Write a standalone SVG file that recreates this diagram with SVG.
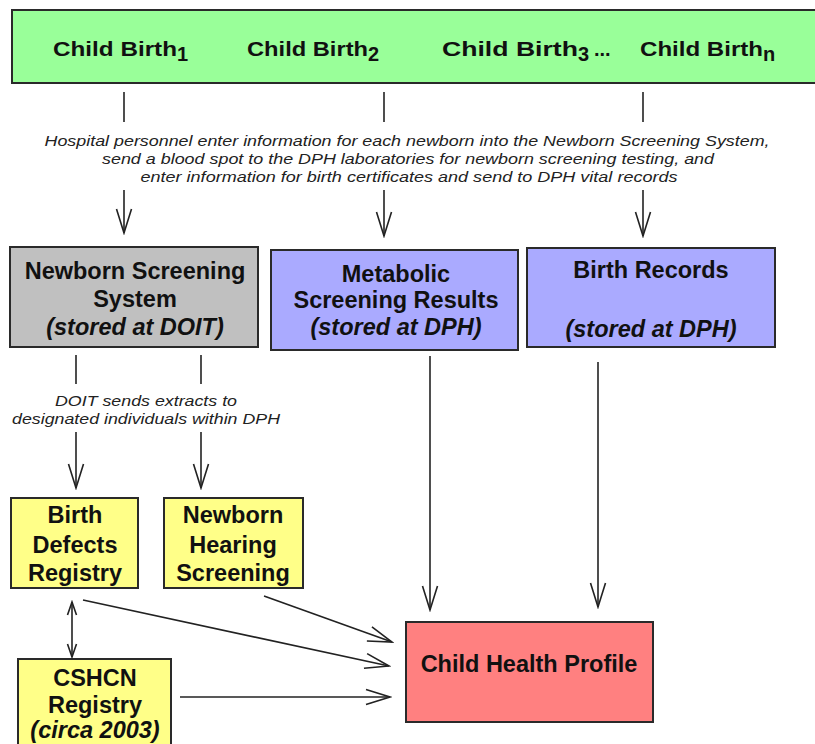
<svg xmlns="http://www.w3.org/2000/svg" width="815" height="744" viewBox="0 0 815 744">
<style>
.box{stroke:#2a2a2a;stroke-width:2}
.t{font-family:"Liberation Sans",Arial,sans-serif;font-weight:bold;fill:#111;text-anchor:middle;font-size:23.5px}
.h{font-family:"Liberation Sans",Arial,sans-serif;font-weight:bold;fill:#111;font-size:20px}
.it{font-family:"Liberation Sans",Arial,sans-serif;font-style:italic;fill:#222;text-anchor:middle;font-size:15px}
.c{stroke:#222;stroke-width:1.6;fill:none}
</style>
<defs>
<marker id="a" markerUnits="userSpaceOnUse" markerWidth="28" markerHeight="20" viewBox="0 0 28 20" refX="26" refY="10" orient="auto">
<path d="M2,2.5 L26,10 L2,17.5" fill="none" stroke="#222" stroke-width="1.6"/>
</marker>
<marker id="as" markerUnits="userSpaceOnUse" markerWidth="20" markerHeight="20" viewBox="0 0 20 20" refX="18" refY="10" orient="auto-start-reverse">
<path d="M5,5.5 L18,10 L5,14.5" fill="none" stroke="#222" stroke-width="1.6"/>
</marker>
</defs>
<rect width="815" height="744" fill="#fff"/>
<g id="births">
<rect class="box" x="12" y="10" width="810" height="73" fill="#99ff99"/>
<text class="h" y="56"><tspan x="53" textLength="124" lengthAdjust="spacingAndGlyphs">Child Birth</tspan><tspan dy="5">1</tspan></text>
<text class="h" y="56"><tspan x="247" textLength="121" lengthAdjust="spacingAndGlyphs">Child Birth</tspan><tspan dy="5">2</tspan></text>
<text class="h" y="56"><tspan x="442" textLength="136" lengthAdjust="spacingAndGlyphs">Child Birth</tspan><tspan dy="5">3</tspan><tspan x="594" dy="-5">...</tspan></text>
<text class="h" y="56"><tspan x="640" textLength="123" lengthAdjust="spacingAndGlyphs">Child Birth</tspan><tspan dy="5">n</tspan></text>
</g>
<g id="label-hospital">
<text class="it" x="407" y="146" textLength="725" lengthAdjust="spacingAndGlyphs">Hospital personnel enter information for each newborn into the Newborn Screening System,</text>
<text class="it" x="408" y="164" textLength="612" lengthAdjust="spacingAndGlyphs">send a blood spot to the DPH laboratories for newborn screening testing, and</text>
<text class="it" x="409" y="182" textLength="537" lengthAdjust="spacingAndGlyphs">enter information for birth certificates and send to DPH vital records</text>
</g>
<g id="nss">
<rect class="box" x="10" y="247" width="248" height="100" fill="#c0c0c0"/>
<text class="t" x="135" y="279">Newborn Screening</text>
<text class="t" x="135" y="307">System</text>
<text class="t" x="135" y="335" font-style="italic">(stored at DOIT)</text>
</g>
<g id="metabolic">
<rect class="box" x="271" y="250" width="247" height="100" fill="#aaaaff"/>
<text class="t" x="396" y="282">Metabolic</text>
<text class="t" x="396" y="308">Screening Results</text>
<text class="t" x="396" y="335" font-style="italic">(stored at DPH)</text>
</g>
<g id="birthrecords">
<rect class="box" x="527" y="248" width="248" height="99" fill="#aaaaff"/>
<text class="t" x="651" y="278">Birth Records</text>
<text class="t" x="651" y="337" font-style="italic">(stored at DPH)</text>
</g>
<g id="label-doit">
<text class="it" x="146" y="406" textLength="182" lengthAdjust="spacingAndGlyphs">DOIT sends extracts to</text>
<text class="it" x="146" y="424" textLength="268" lengthAdjust="spacingAndGlyphs">designated individuals within DPH</text>
</g>
<g id="bdr">
<rect class="box" x="11" y="498" width="127" height="90" fill="#ffff88"/>
<text class="t" x="75" y="523">Birth</text>
<text class="t" x="75" y="553">Defects</text>
<text class="t" x="75" y="581">Registry</text>
</g>
<g id="nhs">
<rect class="box" x="164" y="498" width="139" height="90" fill="#ffff88"/>
<text class="t" x="233" y="523">Newborn</text>
<text class="t" x="233" y="553">Hearing</text>
<text class="t" x="233" y="581">Screening</text>
</g>
<g id="cshcn">
<rect class="box" x="18" y="659" width="153" height="95" fill="#ffff88"/>
<text class="t" x="95" y="686">CSHCN</text>
<text class="t" x="95" y="713">Registry</text>
<text class="t" x="95" y="738" font-style="italic">(circa 2003)</text>
</g>
<g id="chp">
<rect class="box" x="406" y="622" width="247" height="100" fill="#ff8080"/>
<text class="t" x="529" y="672">Child Health Profile</text>
</g>
<g id="connectors">
<line class="c" x1="124" y1="92" x2="124" y2="122"/>
<line class="c" x1="384" y1="92" x2="384" y2="122"/>
<line class="c" x1="643" y1="92" x2="643" y2="122"/>
<line class="c" x1="124" y1="190" x2="124" y2="233" marker-end="url(#a)"/>
<line class="c" x1="384" y1="190" x2="384" y2="236" marker-end="url(#a)"/>
<line class="c" x1="643" y1="190" x2="643" y2="236" marker-end="url(#a)"/>
<line class="c" x1="76" y1="355" x2="76" y2="384"/>
<line class="c" x1="201" y1="355" x2="201" y2="384"/>
<line class="c" x1="76" y1="432" x2="76" y2="488" marker-end="url(#a)"/>
<line class="c" x1="201" y1="432" x2="201" y2="488" marker-end="url(#a)"/>
<line class="c" x1="430" y1="356" x2="430" y2="610" marker-end="url(#a)"/>
<line class="c" x1="598" y1="362" x2="598" y2="607" marker-end="url(#a)"/>
<line class="c" x1="264" y1="596" x2="392" y2="642" marker-end="url(#a)"/>
<line class="c" x1="83" y1="600" x2="389" y2="666" marker-end="url(#a)"/>
<line class="c" x1="180" y1="697" x2="390" y2="697" stroke="#1f6b6b" marker-end="url(#a)"/>
<line class="c" x1="72" y1="602" x2="72" y2="657" marker-start="url(#as)" marker-end="url(#as)"/>
</g>
</svg>
